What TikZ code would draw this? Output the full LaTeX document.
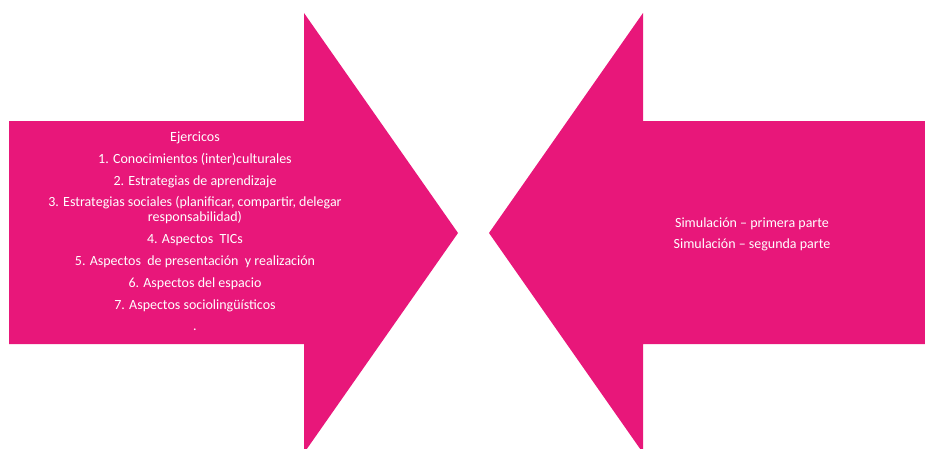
\documentclass[tikz,border=0pt]{standalone}
\usepackage{fontspec}
\setmainfont{Carlito}
\usepackage{tikz}
\usepackage{tkz-euclide}
\usetikzlibrary{calc}
\usetikzlibrary{positioning}

\definecolor{arrowpink}{RGB}{232,23,122}

\begin{document}
\begin{tikzpicture}[%
  x=10pt, y=10pt,
  listtext/.style={text=white, align=center, inner sep=0pt,
    font=\fontsize{14}{17}\selectfont},
]

  \useasboundingbox (0.0, 0.0) rectangle (92.5, 44.8);
  \clip (0.0, 0.0) rectangle (92.5, 44.8);

  % arrow pointing right
  \tkzDefPoint(0.9, 32.7){a0}
  \tkzDefPoint(30.4, 32.7){a1}
  \tkzDefPoint(30.4, 43.5){a2}
  \tkzDefPoint(45.8, 21.5){a3}
  \tkzDefPoint(30.4, -0.5){a4}
  \tkzDefPoint(30.4, 10.4){a5}
  \tkzDefPoint(0.9, 10.4){a6}

  % arrow pointing left
  \tkzDefPoint(92.5, 32.7){b0}
  \tkzDefPoint(64.3, 32.7){b1}
  \tkzDefPoint(64.3, 43.5){b2}
  \tkzDefPoint(48.9, 21.5){b3}
  \tkzDefPoint(64.3, -0.5){b4}
  \tkzDefPoint(64.3, 10.4){b5}
  \tkzDefPoint(92.5, 10.4){b6}

  \tkzFillPolygon[color=arrowpink](a0,a1,a2,a3,a4,a5,a6)
  \tkzFillPolygon[color=arrowpink](b0,b1,b2,b3,b4,b5,b6)

  \node[listtext] (ejercicos) at (19.5, 21.65) {%
    Ejercicos\\[4.8pt]
    1. Conocimientos (inter)culturales\\[4.8pt]
    2. Estrategias de aprendizaje\\[4.8pt]
    3. Estrategias sociales (planificar, compartir, delegar\\[-2pt]
    responsabilidad)\\[4.8pt]
    4. Aspectos~ TICs\\[4.8pt]
    5. Aspectos~ de presentación~ y realización\\[4.8pt]
    6. Aspectos del espacio\\[4.8pt]
    7. Aspectos sociolingüísticos\\[4.8pt]
    .};

  \node[listtext] (simulacion) at (75.2, 21.33) {%
    Simulación – primera parte\\[4pt]
    Simulación – segunda parte};

\end{tikzpicture}
\end{document}
